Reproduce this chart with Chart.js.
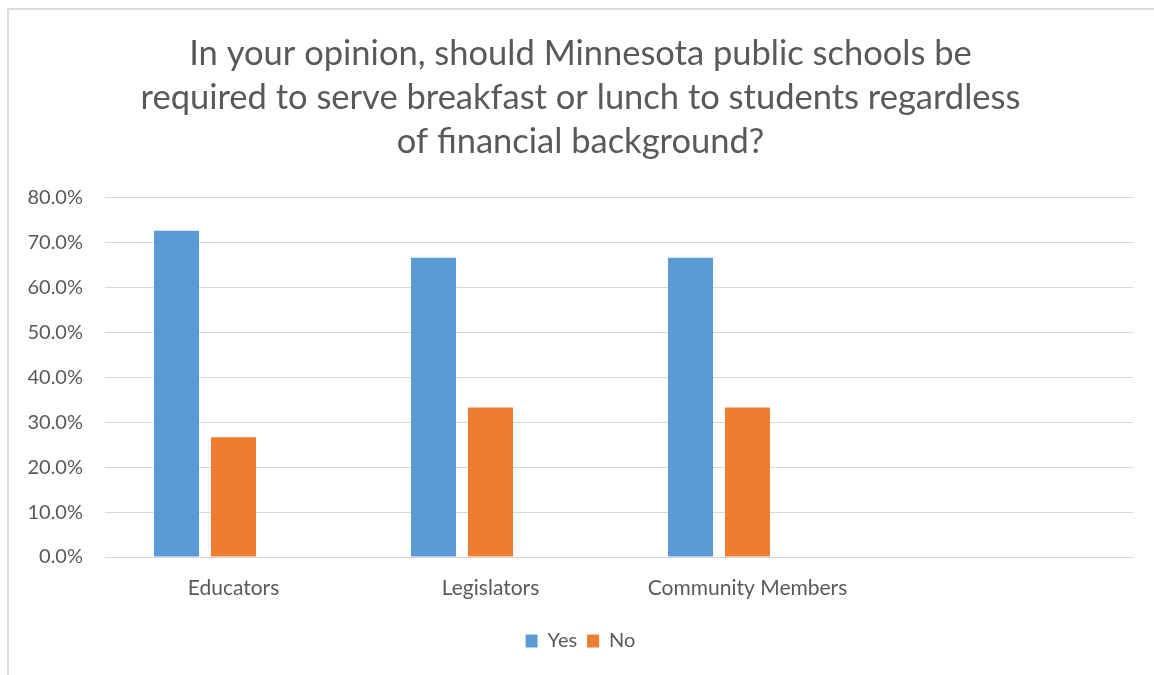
<!DOCTYPE html>
<html>
<head>
<meta charset="utf-8">
<script src="https://cdn.jsdelivr.net/npm/chart.js@4"></script>
<style>
  body { margin: 0; background: #fff; }
  #box {
    position: absolute; left: 7px; top: 8px;
    width: 1147px; height: 667px;
    border-top: 2px solid #dcdcdc; border-left: 2px solid #dcdcdc;
  }
  canvas { display: block; }
</style>
</head>
<body>
<div id="box"><canvas id="survey-chart" width="1145" height="665"></canvas></div>
<script>
// survey answers, share of each group
let groups = ['Educators', 'Legislators', 'Community Members', '']
let yesValues = [72.7, 66.7, 66.7, null]
let noValues = [26.7, 33.3, 33.3, null]
let emptyValues = [null, null, null, null]  // third series in the original sheet, never filled
let titleLines = [
    'In your opinion, should Minnesota public schools be',
    'required to serve breakfast or lunch to students regardless',
    'of financial background?'
]

let ctx = document.querySelector('#survey-chart').getContext('2d')
let grey = '#595959'

let surveyChart = new Chart(ctx, {
    type: 'bar',
    data: {
        labels: groups,
        datasets: [
            { label: 'Yes', data: yesValues, backgroundColor: '#5B9BD5' },
            { label: 'No', data: noValues, backgroundColor: '#ED7D31' },
            { label: '', data: emptyValues, backgroundColor: '#A5A5A5' }
        ]
    },
    options: {
        responsive: false,
        animation: false,
        layout: { padding: { left: 19, right: 21, top: 0, bottom: 14 } },
        datasets: { bar: { categoryPercentage: 0.665, barPercentage: 0.79 } },
        plugins: {
            title: {
                display: true,
                text: titleLines,
                color: grey,
                font: { family: 'Lato', size: 34.5, weight: 'normal', lineHeight: 1.275 },
                padding: { top: 22, bottom: 34 }
            },
            legend: {
                position: 'bottom',
                labels: {
                    color: grey,
                    font: { family: 'Lato', size: 20 },
                    boxWidth: 12,
                    boxHeight: 13,
                    padding: 10,
                    filter: function (item) { return item.text !== '' }
                }
            },
            tooltip: { enabled: false }
        },
        scales: {
            x: {
                grid: { display: false, drawTicks: false },
                border: { color: '#d9d9d9' },
                ticks: { color: grey, font: { family: 'Lato', size: 21 }, padding: 19, maxRotation: 0 },
                afterFit: function (scale) { scale.height = 64 }
            },
            y: {
                min: 0,
                max: 80,
                grid: { color: '#d9d9d9', drawTicks: false },
                border: { display: false },
                ticks: {
                    stepSize: 10,
                    color: grey,
                    font: { family: 'Lato', size: 20 },
                    padding: 22,
                    callback: function (v) { return v.toFixed(1) + '%' }
                },
                afterFit: function (scale) { scale.width = 77 }
            }
        }
    }
})
</script>
</body>
</html>
